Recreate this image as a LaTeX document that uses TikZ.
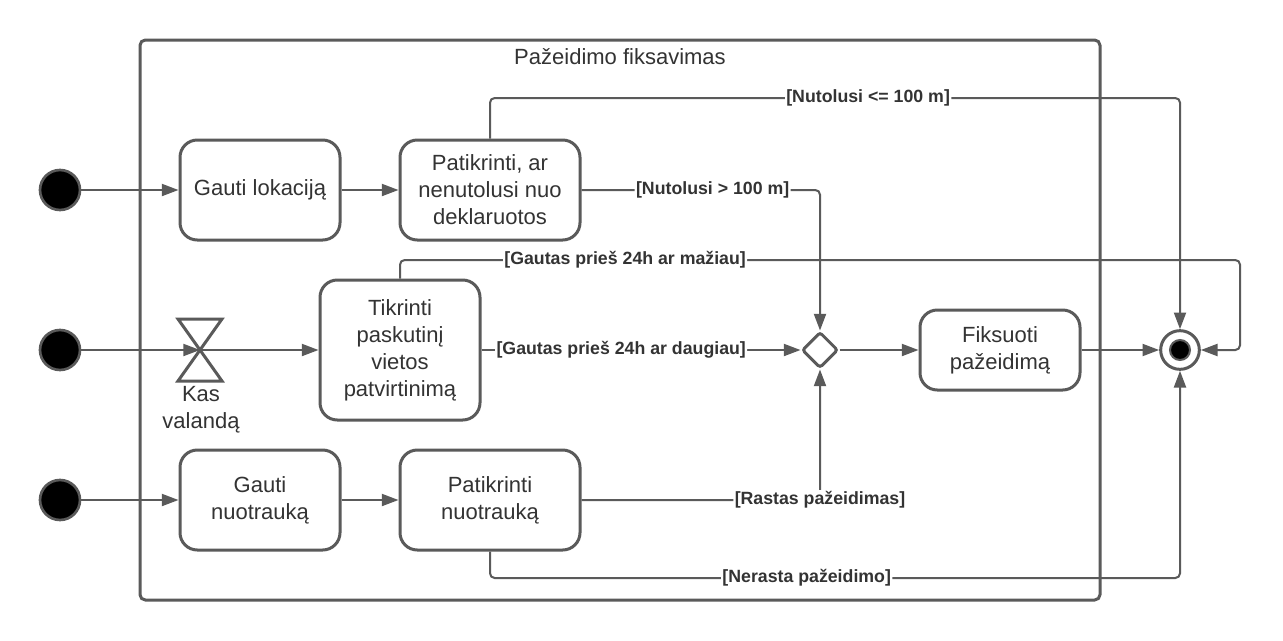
\documentclass[tikz,border=0pt]{standalone}
\usepackage{fontspec}
\setmainfont{Liberation Sans}
\usetikzlibrary{arrows.meta,shapes.geometric,calc}
\definecolor{ln}{HTML}{5A5A5A}
\definecolor{tx}{HTML}{333333}
\begin{document}
\begin{tikzpicture}[x=0.75pt,y=-0.75pt,
  act/.style={draw=ln, line width=2.25pt, rounded corners=13pt, fill=white, text=tx, align=center, font=\fontsize{16.5}{20.25}\selectfont, inner sep=2pt},
  conn/.style={draw=ln, line width=1.5pt, rounded corners=3.5pt, -{Triangle[length=12.5pt,width=9pt]}},
  lbl/.style={fill=white, text=tx, font=\bfseries\fontsize{13.3}{16}\selectfont, inner sep=1pt},
  init/.style={circle, fill=black, draw=ln, line width=2pt, minimum size=30pt, inner sep=0pt},
  plain/.style={text=tx, align=center, font=\fontsize{16.5}{20.25}\selectfont},
]
\useasboundingbox (0,0) rectangle (1283,640);
\fill[white] (0,0) rectangle (1283,640);
% frame
\node[draw=ln, line width=2.25pt, rounded corners=4pt, minimum width=720pt, minimum height=420pt, inner sep=0pt] (frame) at (620,320) {};
\node[plain] (title) at (620,57) {Pažeidimo fiksavimas};
% initial nodes
\node[init] (i1) at (60,190) {};
\node[init] (i2) at (60,350) {};
\node[init] (i3) at (60,500) {};
% activities
\node[act, minimum width=120pt, minimum height=75pt] (gl) at (260,190) {Gauti lokaciją};
\node[act, minimum width=135pt, minimum height=75pt] (pc) at (490,190) {Patikrinti, ar\\nenutolusi nuo\\deklaruotos};
\node[act, minimum width=120pt, minimum height=105pt] (tk) at (400,350) {Tikrinti\\paskutinį\\vietos\\patvirtinimą};
\node[act, minimum width=120pt, minimum height=60pt] (fx) at (1000,350) {Fiksuoti\\pažeidimą};
\node[act, minimum width=120pt, minimum height=75pt] (gn) at (260,500) {Gauti\\nuotrauką};
\node[act, minimum width=135pt, minimum height=75pt] (pn) at (490,500) {Patikrinti\\nuotrauką};
% decision
\node[diamond, draw=ln, line width=2.25pt, fill=white, rounded corners=2pt, minimum width=27pt, minimum height=27pt, inner sep=0pt] (dia) at (820,350) {};
% final
\node[circle, draw=ln, line width=2.25pt, fill=white, minimum size=29pt, inner sep=0pt] (fin) at (1180,350) {};
\node[circle, draw=ln, line width=1.5pt, fill=black, minimum size=15pt, inner sep=0pt] (finin) at (fin) {};
% timer
\coordinate (hg) at (200,350);
\draw[draw=ln, line width=2.25pt, shift={(hg)}] (-22,-31) -- (22,-31) -- (-22,31) -- (22,31) -- cycle;
\node[plain] (hgl) at (201,410) {Kas\\valandą};
% bend helpers
\coordinate (y98) at (0,98);
\coordinate (r7) at (1240,260);
\coordinate (y578) at (0,578);
% connectors
\draw[conn] (i1) -- (gl);
\draw[conn] (gl) -- (pc);
\draw[conn] (pc.north) -- (pc.north |- y98) -- node[lbl,pos=0.548]{[Nutolusi <= 100 m]} (fin.north |- y98) -- (fin.north);
\draw[conn] (pc.east) -- node[lbl,pos=0.55]{[Nutolusi > 100 m]} (pc.east -| dia.north) -- (dia.north);
\draw[conn] (i2) -- (hg);
\draw[conn] (hg) -- (tk);
\draw[conn] (tk.north) -- (tk.north |- r7) -- node[lbl,pos=0.268]{[Gautas prieš 24h ar mažiau]} (r7) -- (r7 |- fin.east) -- (fin.east);
\draw[conn] (tk) -- node[lbl,pos=0.438]{[Gautas prieš 24h ar daugiau]} (dia);
\draw[conn] (dia) -- (fx);
\draw[conn] (fx) -- (fin);
\draw[conn] (i3) -- (gn);
\draw[conn] (gn) -- (pn);
\draw[conn] (pn.east) -- (pn.east -| dia.south) node[lbl]{[Rastas pažeidimas]} -- (dia.south);
\draw[conn] (pn.south) -- (pn.south |- y578) -- node[lbl,pos=0.459]{[Nerasta pažeidimo]} (fin.south |- y578) -- (fin.south);
\end{tikzpicture}
\end{document}
